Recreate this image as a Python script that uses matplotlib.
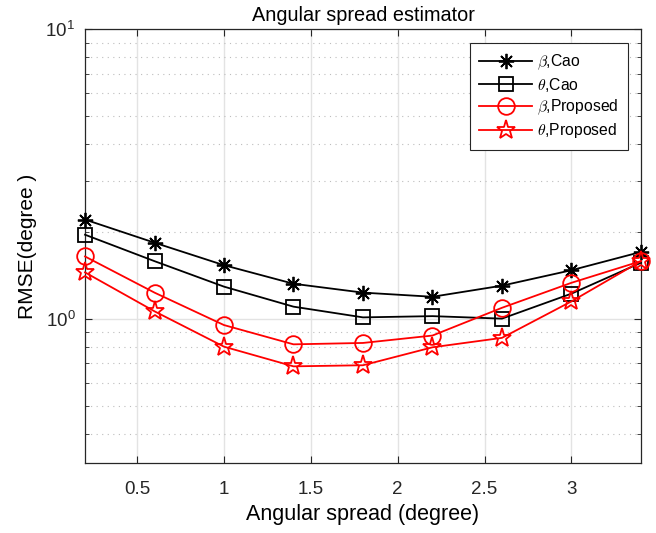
import matplotlib
matplotlib.use('Agg')
import matplotlib.pyplot as plt
import numpy as np
from matplotlib.ticker import FixedLocator, FixedFormatter, NullFormatter

# angular spread values (degree)
spread = [0.2, 0.6, 1.0, 1.4, 1.8, 2.2, 2.6, 3.0, 3.4]

# RMSE values
beta_cao = [2.20, 1.83, 1.53, 1.32, 1.23, 1.19, 1.30, 1.47, 1.70]
theta_cao = [1.95, 1.58, 1.29, 1.10, 1.01, 1.02, 1.00, 1.22, 1.56]
beta_prop = [1.64, 1.23, 0.95, 0.815, 0.824, 0.874, 1.09, 1.33, 1.58]
theta_prop = [1.445, 1.06, 0.80, 0.684, 0.690, 0.796, 0.858, 1.147, 1.58]

labels = [r'$\beta$,Cao', r'$\theta$,Cao', r'$\beta$,Proposed', r'$\theta$,Proposed']
xticks = [0.5, 1, 1.5, 2, 2.5, 3]

plt.rcParams['font.family'] = ['Liberation Sans', 'DejaVu Sans']
plt.rcParams['mathtext.fontset'] = 'cm'

fig = plt.figure(figsize=(6.56, 5.33), dpi=100)
ax = fig.add_axes([0.1296, 0.1308, 0.8474, 0.8142])

lw = 1.3
ax.plot(spread, beta_cao, color='black', lw=lw, marker=(8, 2, 0), ms=11,
        mew=1.3, label=labels[0], clip_on=False, zorder=3)
ax.plot(spread, theta_cao, color='black', lw=lw, marker='s', ms=10,
        mfc='none', mew=1.3, label=labels[1], clip_on=False, zorder=3)
ax.plot(spread, beta_prop, color='red', lw=lw, marker='o', ms=12,
        mfc='none', mew=1.3, label=labels[2], clip_on=False, zorder=3)
ax.plot(spread, theta_prop, color='red', lw=lw, marker='*', ms=14,
        mfc='none', mew=1.3, label=labels[3], clip_on=False, zorder=3)

ax.set_yscale('log')
ax.set_xlim(0.2, 3.4)
ax.set_ylim(10 ** -0.5, 10)

ax.xaxis.set_major_locator(FixedLocator(xticks))
ax.set_xticklabels([str(t) for t in xticks])
ax.yaxis.set_major_locator(FixedLocator([1, 10]))
ax.yaxis.set_major_formatter(FixedFormatter([r'$\mathregular{10^0}$', r'$\mathregular{10^1}$']))
minors = [m * d for d in (0.1, 1) for m in range(2, 10) if 10 ** -0.5 <= m * d <= 10]
ax.yaxis.set_minor_locator(FixedLocator(minors))
ax.yaxis.set_minor_formatter(NullFormatter())

ax.tick_params(which='both', direction='in', top=True, right=True,
               colors='#262626', labelsize=13.5)
ax.tick_params(axis='x', pad=13)
ax.tick_params(axis='y', pad=7)
ax.tick_params(which='major', length=5)
ax.tick_params(which='minor', length=3)
for s in ax.spines.values():
    s.set_color('#262626')
    s.set_linewidth(0.9)

# matlab-like grid: solid light major lines, dotted minor lines on y
ax.grid(True, which='major', color='#e3e3e3', lw=1.0, ls='-')
ax.grid(True, which='minor', axis='y', color='#bdbdbd', lw=0.8, ls=(0, (1, 4)))
ax.set_axisbelow(True)

ax.set_title('Angular spread estimator', fontsize=14.3, pad=6)
ax.set_xlabel('Angular spread (degree)', fontsize=15.5, labelpad=4)
ax.set_ylabel('RMSE(degree )', fontsize=15, labelpad=6)

leg = ax.legend(loc='upper right', bbox_to_anchor=(0.977, 0.968), borderaxespad=0,
                fontsize=11.3, fancybox=False, framealpha=1, edgecolor='#262626',
                handlelength=3.4, borderpad=0.6, labelspacing=0.25,
                handletextpad=0.3)
leg.get_frame().set_linewidth(0.8)

fig.savefig('out.png', dpi=100)
